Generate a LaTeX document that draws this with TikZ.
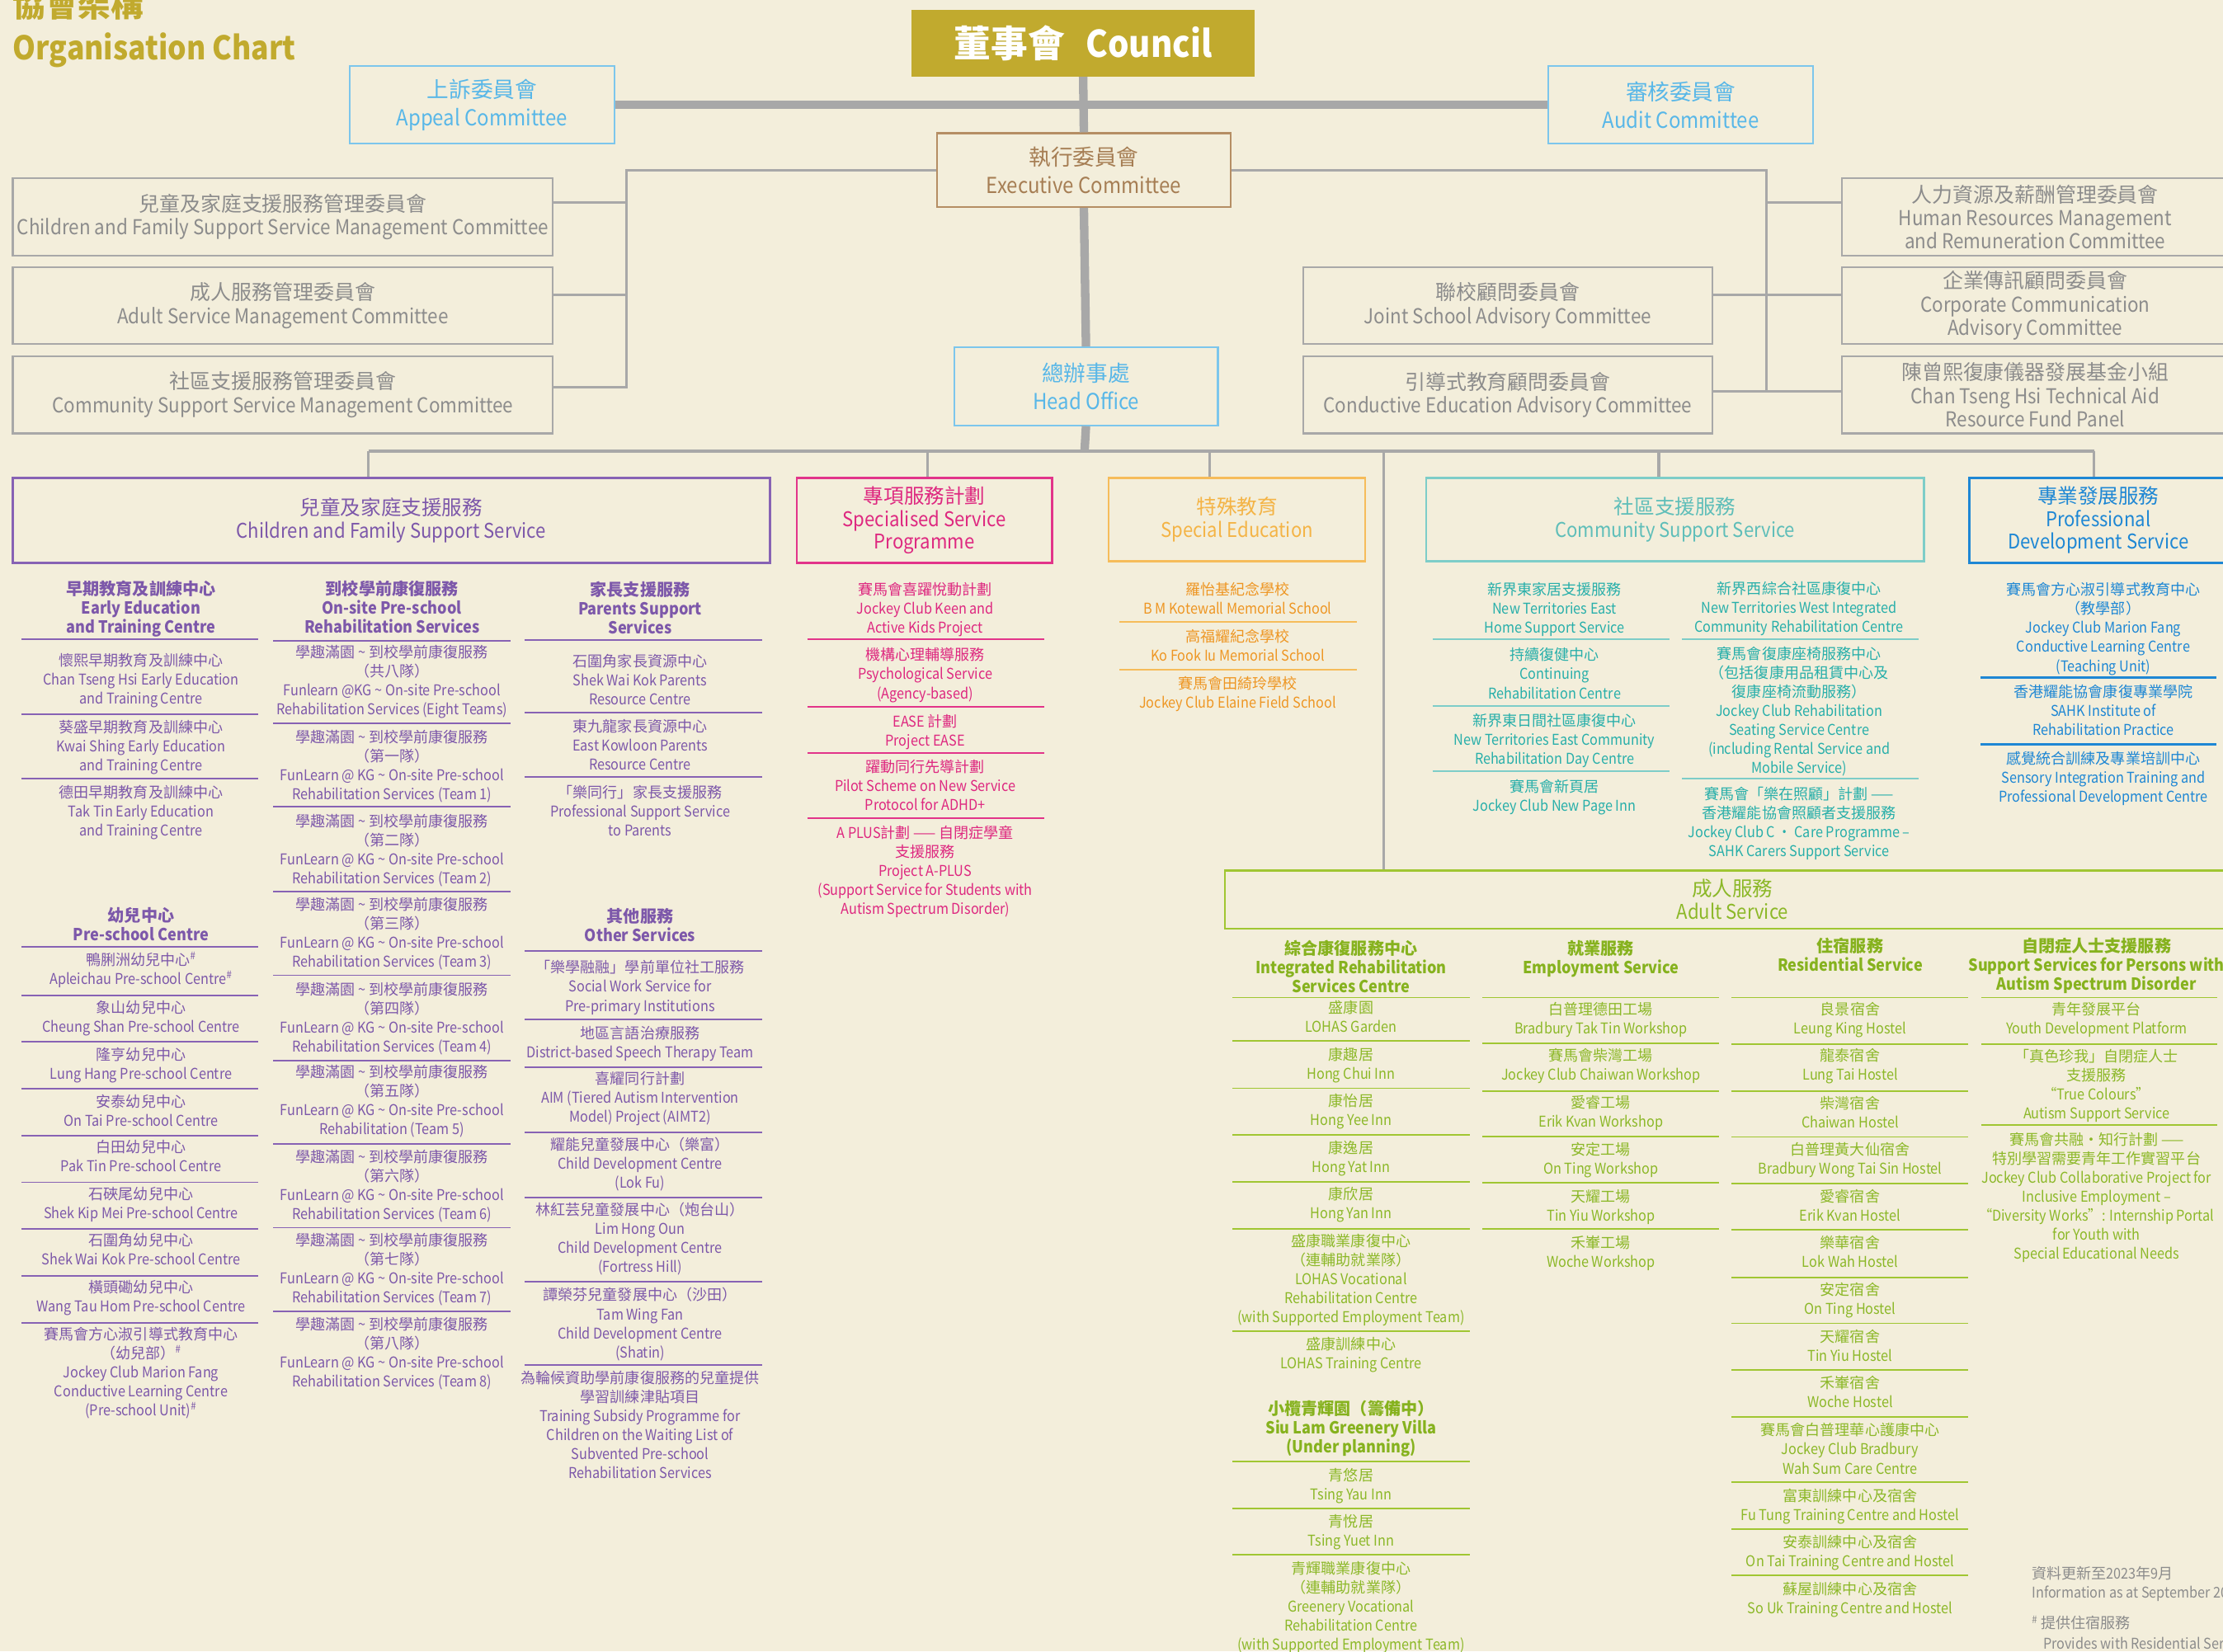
\documentclass[tikz,border=0pt]{standalone}
\usepackage{fontspec}
\setmainfont[FakeStretch=0.9]{Noto Sans CJK TC}
\newfontfamily\hanfont{Noto Sans CJK TC}
\usepackage{tikz}
\usetikzlibrary{positioning}

% Han characters keep their full width, Latin text is set a little narrower
\XeTeXinterchartokenstate=1
\newXeTeXintercharclass\hanclass
\count255="3000
\loop
  \XeTeXcharclass\count255=\hanclass
  \advance\count255 by 1
\ifnum\count255<"A000 \repeat
\count255="FF00
\loop
  \XeTeXcharclass\count255=\hanclass
  \advance\count255 by 1
\ifnum\count255<"FF60 \repeat
\XeTeXinterchartoks 0 \hanclass = {\begingroup\hanfont}
\XeTeXinterchartoks 4095 \hanclass = {\begingroup\hanfont}
\XeTeXinterchartoks \hanclass 0 = {\endgroup}
\XeTeXinterchartoks \hanclass 4095 = {\endgroup}

\definecolor{paper}{RGB}{243,238,219}
\definecolor{gold}{RGB}{193,170,46}
\definecolor{skyline}{RGB}{124,198,236}
\definecolor{skytext}{RGB}{88,183,232}
\definecolor{brownline}{RGB}{181,142,100}
\definecolor{browntext}{RGB}{166,126,84}
\definecolor{greyline}{RGB}{168,168,168}
\definecolor{greytext}{RGB}{140,140,140}
\definecolor{cfline}{RGB}{135,98,180}
\definecolor{cftext}{RGB}{125,88,170}
\definecolor{pinkline}{RGB}{226,52,138}
\definecolor{pinktext}{RGB}{222,40,128}
\definecolor{orangeline}{RGB}{246,188,90}
\definecolor{orangehead}{RGB}{244,180,70}
\definecolor{orangetext}{RGB}{238,150,35}
\definecolor{tealline}{RGB}{125,205,200}
\definecolor{tealhead}{RGB}{95,190,185}
\definecolor{tealtext}{RGB}{40,175,170}
\definecolor{pdblue}{RGB}{30,135,212}
\definecolor{greenline}{RGB}{160,198,50}
\definecolor{greentext}{RGB}{140,184,40}
\definecolor{greenhead}{RGB}{134,178,30}

\tikzset{
  trunk/.style={line width=6pt, greyline},
  link/.style={line width=1.8pt, greyline},
  topbox/.style={draw, line width=1.3pt, align=center, inner sep=0pt, font=\fontsize{15.5}{19.5}\selectfont},
  cmte/.style={draw=greyline, text=greytext, line width=1.2pt, align=center, inner sep=0pt, minimum height=54.5pt, font=\fontsize{14.5}{16.5}\selectfont},
  grpbox/.style={draw, line width=1.5pt, align=center, inner sep=0pt, font=\fontsize{14.3}{16}\selectfont},
  itm/.style={anchor=base, align=center, inner sep=0pt, font=\fontsize{10.5}{13.4}\selectfont},
  hdr/.style={anchor=base, align=center, inner sep=0pt, font=\bfseries\fontsize{11.7}{13.4}\selectfont},
  nlines/.style={yshift={-(#1-1)*13.4}},
  rule/.style={line width=1.1pt}
}

\begin{document}
\begin{tikzpicture}[x=1pt, y=-1pt]
  \path[use as bounding box] (0,0) rectangle (1568,1165);
  \clip (0,0) rectangle (1568,1165);
  \fill[paper] (0,0) rectangle (1568,1165);

  % title
  \node[anchor=base west, inner sep=0pt, gold, font=\bfseries\fontsize{23}{25}\selectfont] (ttlzh) at (9,12) {協會架構};
  \node[anchor=base west, inner sep=0pt, gold, font=\bfseries\fontsize{23}{25}\selectfont] (ttlen) at (9,42) {Organisation Chart};

  % top of the tree
  \node[fill=gold, minimum width=242pt, minimum height=47pt, inner sep=0pt, text=white, font=\bfseries\fontsize{26}{28}\selectfont] (council) at (764,30.5) {董事會\hspace{15pt}Council};
  \node[topbox, skyline, text=skytext, minimum width=187pt, minimum height=54.6pt] (appeal) at (340,74) {上訴委員會\\Appeal Committee};
  \node[topbox, skyline, text=skytext, minimum width=187pt, minimum height=54.6pt] (audit) at (1185.5,74) {審核委員會\\Audit Committee};
  \node[topbox, brownline, text=browntext, minimum width=207pt, minimum height=52pt] (exec) at (764.5,120) {執行委員會\\Executive Committee};
  \node[topbox, skyline, text=skytext, minimum width=186pt, minimum height=55pt] (head) at (766,272.5) {總辦事處\\Head Office};

  \draw[trunk] (appeal.east) -- (audit.west);
  \draw[trunk] (council.south) -- (exec.north);
  \draw[trunk] (exec.south) -- (head.north);
  \coordinate (hub) at (765,318);
  \draw[trunk] (head.south) -- (hub);

  % committees
  \node[cmte, minimum width=381pt] (cfsmc) at (199.5,153) {兒童及家庭支援服務管理委員會\\Children and Family Support Service Management Committee};
  \node[cmte, minimum width=381pt] (asmc) at (199.5,215.5) {成人服務管理委員會\\Adult Service Management Committee};
  \node[cmte, minimum width=381pt] (cssmc) at (199.5,278.5) {社區支援服務管理委員會\\Community Support Service Management Committee};
  \node[cmte, minimum width=289pt] (jsac) at (1063.5,215.5) {聯校顧問委員會\\Joint School Advisory Committee};
  \node[cmte, minimum width=289pt] (ceac) at (1063.5,278.5) {引導式教育顧問委員會\\Conductive Education Advisory Committee};
  \node[cmte, minimum width=273pt] (hrrc) at (1435.5,153) {人力資源及薪酬管理委員會\\Human Resources Management\\and Remuneration Committee};
  \node[cmte, minimum width=273pt] (ccac) at (1435.5,215.5) {企業傳訊顧問委員會\\Corporate Communication\\Advisory Committee};
  \node[cmte, minimum width=273pt] (ctsh) at (1435.5,278.5) {陳曾熙復康儀器發展基金小組\\Chan Tseng Hsi Technical Aid\\Resource Fund Panel};

  \coordinate (lbus) at (442,120);
  \coordinate (rbus) at (1246,120);
  \draw[link] (lbus) |- ([yshift=10pt]cfsmc.east);
  \draw[link] (lbus) |- ([yshift=7.5pt]asmc.east);
  \draw[link] (exec.west) -- (lbus) |- ([yshift=5.5pt]cssmc.east);
  \draw[link] (rbus) |- ([yshift=10pt]hrrc.west);
  \draw[link] (exec.east) -- (rbus) |- ([yshift=2.5pt]ctsh.west);
  \draw[link] ([yshift=7.5pt]jsac.east) -- ([yshift=7.5pt]ccac.west);
  \draw[link] ([yshift=2.5pt]ceac.east) -- ([yshift=2.5pt]ctsh.west);

  % service groups
  \node[grpbox, cfline, text=cftext, minimum width=534pt, minimum height=60pt] (cfss) at (276,367) {兒童及家庭支援服務\\Children and Family Support Service};
  \node[grpbox, pinkline, text=pinktext, minimum width=180pt, minimum height=60pt] (ssp) at (652,367) {專項服務計劃\\Specialised Service\\Programme};
  \node[grpbox, orangeline, text=orangehead, minimum width=181pt, minimum height=59pt] (sped) at (872.5,366.5) {特殊教育\\Special Education};
  \node[grpbox, tealline, text=tealhead, minimum width=351pt, minimum height=59pt] (css) at (1181.5,366.5) {社區支援服務\\Community Support Service};
  \node[grpbox, pdblue, minimum width=182pt, minimum height=60pt] (pds) at (1480,367) {專業發展服務\\Professional\\Development Service};
  \node[grpbox, greenline, text=greentext, minimum width=716pt, minimum height=41pt] (adult) at (1222,634.5) {成人服務\\Adult Service};

  \coordinate (busl) at (260,318);
  \coordinate (busr) at (1477,318);
  \coordinate (dssp) at (654,318);
  \coordinate (dsped) at (853,318);
  \coordinate (dadult) at (976,318);
  \coordinate (dcss) at (1170,318);
  \draw[line width=2.4pt, greyline] (busl) -- (busr);
  \draw[link] (busl) -- (busl |- cfss.north);
  \draw[link] (dssp) -- (dssp |- ssp.north);
  \draw[link] (dsped) -- (dsped |- sped.north);
  \draw[link] (dadult) -- (dadult |- adult.north);
  \draw[link] (dcss) -- (dcss |- css.north);
  \draw[link] (busr) -- (busr |- pds.north);

  % children and family support: early education, pre-school centres
  \node[hdr, nlines=3, cftext] (eeh) at (99.5,420) {早期教育及訓練中心\\Early Education\\and Training Centre};
  \node[itm, nlines=3, cftext] (ee1) at (99.5,470) {懷熙早期教育及訓練中心\\Chan Tseng Hsi Early Education\\and Training Centre};
  \node[itm, nlines=3, cftext] (ee2) at (99.5,517) {葵盛早期教育及訓練中心\\Kwai Shing Early Education\\and Training Centre};
  \node[itm, nlines=3, cftext] (ee3) at (99.5,563) {德田早期教育及訓練中心\\Tak Tin Early Education\\and Training Centre};
  \node[hdr, nlines=2, cftext] (psh) at (99.5,650) {幼兒中心\\Pre-school Centre};
  \node[itm, nlines=2, cftext] (ps1) at (99.5,681) {鴨脷洲幼兒中心\textsuperscript{\#}\\Apleichau Pre-school Centre\textsuperscript{\#}};
  \node[itm, nlines=2, cftext] (ps2) at (99.5,715) {象山幼兒中心\\Cheung Shan Pre-school Centre};
  \node[itm, nlines=2, cftext] (ps3) at (99.5,748) {隆亨幼兒中心\\Lung Hang Pre-school Centre};
  \node[itm, nlines=2, cftext] (ps4) at (99.5,781) {安泰幼兒中心\\On Tai Pre-school Centre};
  \node[itm, nlines=2, cftext] (ps5) at (99.5,813) {白田幼兒中心\\Pak Tin Pre-school Centre};
  \node[itm, nlines=2, cftext] (ps6) at (99.5,846) {石硤尾幼兒中心\\Shek Kip Mei Pre-school Centre};
  \node[itm, nlines=2, cftext] (ps7) at (99.5,879) {石圍角幼兒中心\\Shek Wai Kok Pre-school Centre};
  \node[itm, nlines=2, cftext] (ps8) at (99.5,912) {橫頭磡幼兒中心\\Wang Tau Hom Pre-school Centre};
  \node[itm, nlines=5, cftext] (ps9) at (99.5,945) {賽馬會方心淑引導式教育中心\\（幼兒部）\textsuperscript{\#}\\Jockey Club Marion Fang\\Conductive Learning Centre\\(Pre-school Unit)\textsuperscript{\#}};
  \draw[rule, cfline] (15,451)--(182,451) (15,504)--(182,504) (15,549)--(182,549) (15,668)--(182,668) (15,702)--(182,702) (15,735)--(182,735) (15,768)--(182,768) (15,801)--(182,801) (15,834)--(182,834) (15,867)--(182,867) (15,900)--(182,900) (15,933)--(182,933);

  % on-site pre-school rehabilitation
  \node[hdr, nlines=3, cftext] (osh) at (276.5,420) {到校學前康復服務\\On-site Pre-school\\Rehabilitation Services};
  \node[itm, nlines=4, cftext] (os0) at (276.5,464) {學趣滿園 \textasciitilde{} 到校學前康復服務\\（共八隊）\\Funlearn @KG \textasciitilde{} On-site Pre-school\\Rehabilitation Services (Eight Teams)};
  \node[itm, nlines=4, cftext] (os1) at (276.5,524) {學趣滿園 \textasciitilde{} 到校學前康復服務\\（第一隊）\\FunLearn @ KG \textasciitilde{} On-site Pre-school\\Rehabilitation Services (Team 1)};
  \node[itm, nlines=4, cftext] (os2) at (276.5,583) {學趣滿園 \textasciitilde{} 到校學前康復服務\\（第二隊）\\FunLearn @ KG \textasciitilde{} On-site Pre-school\\Rehabilitation Services (Team 2)};
  \node[itm, nlines=4, cftext] (os3) at (276.5,642) {學趣滿園 \textasciitilde{} 到校學前康復服務\\（第三隊）\\FunLearn @ KG \textasciitilde{} On-site Pre-school\\Rehabilitation Services (Team 3)};
  \node[itm, nlines=4, cftext] (os4) at (276.5,702) {學趣滿園 \textasciitilde{} 到校學前康復服務\\（第四隊）\\FunLearn @ KG \textasciitilde{} On-site Pre-school\\Rehabilitation Services (Team 4)};
  \node[itm, nlines=4, cftext] (os5) at (276.5,760) {學趣滿園 \textasciitilde{} 到校學前康復服務\\（第五隊）\\FunLearn @ KG \textasciitilde{} On-site Pre-school\\Rehabilitation (Team 5)};
  \node[itm, nlines=4, cftext] (os6) at (276.5,820) {學趣滿園 \textasciitilde{} 到校學前康復服務\\（第六隊）\\FunLearn @ KG \textasciitilde{} On-site Pre-school\\Rehabilitation Services (Team 6)};
  \node[itm, nlines=4, cftext] (os7) at (276.5,879) {學趣滿園 \textasciitilde{} 到校學前康復服務\\（第七隊）\\FunLearn @ KG \textasciitilde{} On-site Pre-school\\Rehabilitation Services (Team 7)};
  \node[itm, nlines=4, cftext] (os8) at (276.5,938) {學趣滿園 \textasciitilde{} 到校學前康復服務\\（第八隊）\\FunLearn @ KG \textasciitilde{} On-site Pre-school\\Rehabilitation Services (Team 8)};
  \draw[rule, cfline] (192.6,452)--(360,452) (192.6,510)--(360,510) (192.6,569)--(360,569) (192.6,629)--(360,629) (192.6,688)--(360,688) (192.6,748)--(360,748) (192.6,807)--(360,807) (192.6,866)--(360,866) (192.6,925)--(360,925);

  % parents support, other services
  \node[hdr, nlines=3, cftext] (pah) at (451.5,420.5) {家長支援服務\\Parents Support\\Services};
  \node[itm, nlines=3, cftext] (pa1) at (451.5,470.5) {石圍角家長資源中心\\Shek Wai Kok Parents\\Resource Centre};
  \node[itm, nlines=3, cftext] (pa2) at (451.5,516.6) {東九龍家長資源中心\\East Kowloon Parents\\Resource Centre};
  \node[itm, nlines=3, cftext] (pa3) at (451.5,563) {「樂同行」家長支援服務\\Professional Support Service\\to Parents};
  \node[hdr, nlines=2, cftext] (oth) at (451.5,650.5) {其他服務\\Other Services};
  \node[itm, nlines=3, cftext] (ot1) at (451.5,686.5) {「樂學融融」學前單位社工服務\\Social Work Service for\\Pre-primary Institutions};
  \node[itm, nlines=2, cftext] (ot2) at (451.5,732.5) {地區言語治療服務\\District-based Speech Therapy Team};
  \node[itm, nlines=3, cftext] (ot3) at (451.5,765) {喜耀同行計劃\\AIM (Tiered Autism Intervention\\Model) Project (AIMT2)};
  \node[itm, nlines=3, cftext] (ot4) at (451.5,811.5) {耀能兒童發展中心（樂富）\\Child Development Centre\\(Lok Fu)};
  \node[itm, nlines=4, cftext] (ot5) at (451.5,857.5) {林紅芸兒童發展中心（炮台山）\\Lim Hong Oun\\Child Development Centre\\(Fortress Hill)};
  \node[itm, nlines=4, cftext] (ot6) at (451.5,917.5) {譚榮芬兒童發展中心（沙田）\\Tam Wing Fan\\Child Development Centre\\(Shatin)};
  \node[itm, nlines=6, cftext] (ot7) at (451.5,976) {為輪候資助學前康復服務的兒童提供\\學習訓練津貼項目\\Training Subsidy Programme for\\Children on the Waiting List of\\Subvented Pre-school\\Rehabilitation Services};
  \draw[rule, cfline] (370,451.5)--(537.6,451.5) (370,502.6)--(537.6,502.6) (370,548)--(537.6,548) (370,671)--(537.6,671) (370,719)--(537.6,719) (370,753)--(537.6,753) (370,799)--(537.6,799) (370,845)--(537.6,845) (370,904)--(537.6,904) (370,963)--(537.6,963);

  % specialised service programme
  \node[itm, nlines=3, pinktext] (sp1) at (652.6,420) {賽馬會喜躍悅動計劃\\Jockey Club Keen and\\Active Kids Project};
  \node[itm, nlines=3, pinktext] (sp2) at (652.6,466) {機構心理輔導服務\\Psychological Service\\(Agency-based)};
  \node[itm, nlines=2, pinktext] (sp3) at (652.6,512.7) {EASE 計劃\\Project EASE};
  \node[itm, nlines=3, pinktext] (sp4) at (652.6,545) {躍動同行先導計劃\\Pilot Scheme on New Service\\Protocol for ADHD+};
  \node[itm, nlines=5, pinktext] (sp5) at (652.6,591.6) {A PLUS計劃 —— 自閉症學童\\支援服務\\Project A-PLUS\\(Support Service for Students with\\Autism Spectrum Disorder)};
  \draw[rule, pinkline] (569.4,451)--(736.3,451) (569.4,498.7)--(736.3,498.7) (569.4,531.4)--(736.3,531.4) (569.4,577.4)--(736.3,577.4);

  % special education
  \node[itm, nlines=2, orangetext] (se1) at (873,420) {羅怡基紀念學校\\B M Kotewall Memorial School};
  \node[itm, nlines=2, orangetext] (se2) at (873,453) {高福耀紀念學校\\Ko Fook Iu Memorial School};
  \node[itm, nlines=2, orangetext] (se3) at (873,486) {賽馬會田綺玲學校\\Jockey Club Elaine Field School};
  \draw[rule, orangeline] (789.6,438.6)--(956.8,438.6) (789.6,472.3)--(956.8,472.3);

  % community support
  \node[itm, nlines=3, tealtext] (cs1) at (1096.5,420) {新界東家居支援服務\\New Territories East\\Home Support Service};
  \node[itm, nlines=3, tealtext] (cs2) at (1096.5,466) {持續復健中心\\Continuing\\Rehabilitation Centre};
  \node[itm, nlines=3, tealtext] (cs3) at (1096.5,512.5) {新界東日間社區康復中心\\New Territories East Community\\Rehabilitation Day Centre};
  \node[itm, nlines=2, tealtext] (cs4) at (1096.5,558.6) {賽馬會新頁居\\Jockey Club New Page Inn};
  \node[itm, nlines=3, tealtext] (cs5) at (1269,419) {新界西綜合社區康復中心\\New Territories West Integrated\\Community Rehabilitation Centre};
  \node[itm, nlines=7, tealtext] (cs6) at (1269,465) {賽馬會復康座椅服務中心\\（包括復康用品租賃中心及\\復康座椅流動服務）\\Jockey Club Rehabilitation\\Seating Service Centre\\(including Rental Service and\\Mobile Service)};
  \node[itm, nlines=4, tealtext] (cs7) at (1269,564) {賽馬會「樂在照顧」計劃 ——\\香港耀能協會照顧者支援服務\\Jockey Club C • Care Programme –\\SAHK Carers Support Service};
  \draw[rule, tealline] (1010.5,451)--(1177.3,451) (1010.5,497.8)--(1177.3,497.8) (1010.5,544.2)--(1177.3,544.2);
  \draw[rule, tealline] (1186.6,451)--(1353.4,451) (1186.6,549.2)--(1353.4,549.2);

  % professional development
  \node[itm, nlines=5, pdblue] (pd1) at (1483.6,420) {賽馬會方心淑引導式教育中心\\（教學部）\\Jockey Club Marion Fang\\Conductive Learning Centre\\(Teaching Unit)};
  \node[itm, nlines=3, pdblue] (pd2) at (1483.6,492) {香港耀能協會康復專業學院\\SAHK Institute of\\Rehabilitation Practice};
  \node[itm, nlines=3, pdblue] (pd3) at (1483.6,539) {感覺統合訓練及專業培訓中心\\Sensory Integration Training and\\Professional Development Centre};
  \draw[line width=1.6pt, pdblue] (1397,478)--(1563.5,478) (1397,525)--(1563.5,525);

  % adult: integrated rehabilitation
  \node[hdr, nlines=3, greenhead] (irh) at (953,673.4) {綜合康復服務中心\\Integrated Rehabilitation\\Services Centre};
  \node[itm, nlines=2, greentext] (ir1) at (953,715) {盛康園\\LOHAS Garden};
  \node[itm, nlines=2, greentext] (ir2) at (953,747.7) {康趣居\\Hong Chui Inn};
  \node[itm, nlines=2, greentext] (ir3) at (953,780.6) {康怡居\\Hong Yee Inn};
  \node[itm, nlines=2, greentext] (ir4) at (953,813.5) {康逸居\\Hong Yat Inn};
  \node[itm, nlines=2, greentext] (ir5) at (953,846.4) {康欣居\\Hong Yan Inn};
  \node[itm, nlines=5, greentext] (ir6) at (953,879.6) {盛康職業康復中心\\（連輔助就業隊）\\LOHAS Vocational\\Rehabilitation Centre\\(with Supported Employment Team)};
  \node[itm, nlines=2, greentext] (ir7) at (953,952.2) {盛康訓練中心\\LOHAS Training Centre};
  \node[hdr, nlines=3, greenhead] (slh) at (953,998.3) {小欖青輝園（籌備中）\\Siu Lam Greenery Villa\\(Under planning)};
  \node[itm, nlines=2, greentext] (sl1) at (953,1044.4) {青悠居\\Tsing Yau Inn};
  \node[itm, nlines=2, greentext] (sl2) at (953,1077.3) {青悅居\\Tsing Yuet Inn};
  \node[itm, nlines=5, greentext] (sl3) at (953,1110.5) {青輝職業康復中心\\（連輔助就業隊）\\Greenery Vocational\\Rehabilitation Centre\\(with Supported Employment Team)};
  \draw[rule, greenline] (869.3,703.7)--(1036.6,703.7) (869.3,734.5)--(1036.6,734.5) (869.3,767.7)--(1036.6,767.7) (869.3,800.6)--(1036.6,800.6) (869.3,833.7)--(1036.6,833.7) (869.3,866.7)--(1036.6,866.7) (869.3,939.2)--(1036.6,939.2) (869.3,1031)--(1036.6,1031) (869.3,1064)--(1036.6,1064) (869.3,1096.5)--(1036.6,1096.5);

  % adult: employment
  \node[hdr, nlines=2, greenhead] (emh) at (1129.2,673.4) {就業服務\\Employment Service};
  \node[itm, nlines=2, greentext] (em1) at (1129.2,716) {白普理德田工場\\Bradbury Tak Tin Workshop};
  \node[itm, nlines=2, greentext] (em2) at (1129.2,748.6) {賽馬會柴灣工場\\Jockey Club Chaiwan Workshop};
  \node[itm, nlines=2, greentext] (em3) at (1129.2,781.7) {愛睿工場\\Erik Kvan Workshop};
  \node[itm, nlines=2, greentext] (em4) at (1129.2,815) {安定工場\\On Ting Workshop};
  \node[itm, nlines=2, greentext] (em5) at (1129.2,847.8) {天耀工場\\Tin Yiu Workshop};
  \node[itm, nlines=2, greentext] (em6) at (1129.2,880.7) {禾輋工場\\Woche Workshop};
  \draw[rule, greenline] (1045.5,703.7)--(1212.6,703.7) (1045.5,736.2)--(1212.6,736.2) (1045.5,769.5)--(1212.6,769.5) (1045.5,801.6)--(1212.6,801.6) (1045.5,834.1)--(1212.6,834.1) (1045.5,867)--(1212.6,867);

  % adult: residential
  \node[hdr, nlines=2, greenhead] (rsh) at (1305,671.6) {住宿服務\\Residential Service};
  \node[itm, nlines=2, greentext] (rs1) at (1305,716) {良景宿舍\\Leung King Hostel};
  \node[itm, nlines=2, greentext] (rs2) at (1305,748.6) {龍泰宿舍\\Lung Tai Hostel};
  \node[itm, nlines=2, greentext] (rs3) at (1305,782) {柴灣宿舍\\Chaiwan Hostel};
  \node[itm, nlines=2, greentext] (rs4) at (1305,815) {白普理黃大仙宿舍\\Bradbury Wong Tai Sin Hostel};
  \node[itm, nlines=2, greentext] (rs5) at (1305,848) {愛睿宿舍\\Erik Kvan Hostel};
  \node[itm, nlines=2, greentext] (rs6) at (1305,880.7) {樂華宿舍\\Lok Wah Hostel};
  \node[itm, nlines=2, greentext] (rs7) at (1305,914) {安定宿舍\\On Ting Hostel};
  \node[itm, nlines=2, greentext] (rs8) at (1305,946.8) {天耀宿舍\\Tin Yiu Hostel};
  \node[itm, nlines=2, greentext] (rs9) at (1305,979.7) {禾輋宿舍\\Woche Hostel};
  \node[itm, nlines=3, greentext] (rs10) at (1305,1012.9) {賽馬會白普理華心護康中心\\Jockey Club Bradbury\\Wah Sum Care Centre};
  \node[itm, nlines=2, greentext] (rs11) at (1305,1059) {富東訓練中心及宿舍\\Fu Tung Training Centre and Hostel};
  \node[itm, nlines=2, greentext] (rs12) at (1305,1091.9) {安泰訓練中心及宿舍\\On Tai Training Centre and Hostel};
  \node[itm, nlines=2, greentext] (rs13) at (1305,1124.8) {蘇屋訓練中心及宿舍\\So Uk Training Centre and Hostel};
  \draw[rule, greenline] (1221.4,703.7)--(1388,703.7) (1221.4,736.5)--(1388,736.5) (1221.4,769.5)--(1388,769.5) (1221.4,802)--(1388,802) (1221.4,835)--(1388,835) (1221.4,867.6)--(1388,867.6) (1221.4,901)--(1388,901) (1221.4,933.5)--(1388,933.5) (1221.4,966.4)--(1388,966.4) (1221.4,999.6)--(1388,999.6) (1221.4,1045.7)--(1388,1045.7) (1221.4,1078.6)--(1388,1078.6) (1221.4,1111.5)--(1388,1111.5);

  % adult: autism support
  \node[hdr, nlines=3, greenhead] (ash) at (1478.8,671.6) {自閉症人士支援服務\\Support Services for Persons with\\Autism Spectrum Disorder};
  \node[itm, nlines=2, greentext] (as1) at (1478.8,716) {青年發展平台\\Youth Development Platform};
  \node[itm, nlines=4, greentext] (as2) at (1478.8,748.8) {「真色珍我」自閉症人士\\支援服務\\“True Colours”\\Autism Support Service};
  \node[itm, nlines=7, greentext] (as3) at (1478.8,807.8) {賽馬會共融・知行計劃 ——\\特別學習需要青年工作實習平台\\Jockey Club Collaborative Project for\\Inclusive Employment –\\“Diversity Works”: Internship Portal\\for Youth with\\Special Educational Needs};
  \draw[rule, greenline] (1397.5,703.7)--(1564.1,703.7) (1397.5,736.5)--(1564.1,736.5) (1397.5,793.4)--(1564.1,793.4);

  % notes
  \node[anchor=base west, yshift=-13.8pt, align=left, inner sep=0pt, greytext, font=\fontsize{10.5}{13.8}\selectfont] (upd) at (1433,1113.7) {資料更新至2023年9月\\Information as at September 2023};
  \node[anchor=base west, yshift=-14.2pt, align=left, inner sep=0pt, greytext, font=\fontsize{10.5}{14.2}\selectfont] (note) at (1433,1149) {\textsuperscript{\#} 提供住宿服務\\\hspace*{8pt}Provides with Residential Service};
\end{tikzpicture}
\end{document}
